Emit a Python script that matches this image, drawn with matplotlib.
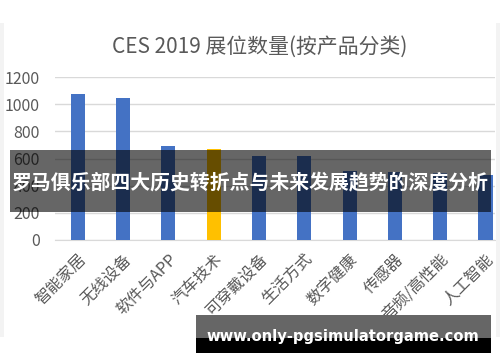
import matplotlib
matplotlib.use("Agg")
import matplotlib.pyplot as plt
from matplotlib.patches import Rectangle

plt.rcParams['font.family'] = ['Noto Sans CJK SC', 'DejaVu Sans']

categories = ["智能家居", "无线设备", "软件与APP", "汽车技术", "可穿戴设备",
              "生活方式", "数字健康", "传感器", "音频/高性能", "人工智能"]
values = [1075, 1042, 693, 668, 620, 615, 505, 500, 490, 478]
highlight = "汽车技术"
title = "CES 2019 展位数量(按产品分类)"
yticks = [0, 200, 400, 600, 800, 1000, 1200]
banner_text = "罗马俱乐部四大历史转折点与未来发展趋势的深度分析"
url_text = "www.only-pgsimulatorgame.com"

W, H = 500, 362
fig = plt.figure(figsize=(W / 100, H / 100), dpi=100)
fig.patch.set_facecolor("white")

def fx(x):
    return x / W

def fy(y):
    return 1 - y / H

# side margins of the screenshot card
fig.add_artist(Rectangle((fx(0), fy(337)), fx(4), (337 - 23) / H,
                         transform=fig.transFigure, facecolor="#f3f3f3", edgecolor="none"))
fig.add_artist(Rectangle((fx(496), fy(337)), fx(4), (337 - 23) / H,
                         transform=fig.transFigure, facecolor="#f3f3f3", edgecolor="none"))

ax = fig.add_axes([fx(55), fy(240), fx(495 - 55), (240 - 77) / H])
colors = ["#FFC000" if c == highlight else "#4472C4" for c in categories]
x = list(range(len(categories)))
ax.bar(x, values, width=0.31, color=colors, zorder=3)
ax.set_xlim(-0.5, 9.21)
ax.set_ylim(0, 1200)
ax.set_yticks(yticks)
ax.set_yticklabels([str(v) for v in yticks])
ax.set_xticks(x)
ax.set_xticklabels(categories, rotation=45, ha="right", rotation_mode="anchor")
ax.grid(axis="y", color="#d9d9d9", linewidth=1, zorder=0)
for s in ["top", "right", "left"]:
    ax.spines[s].set_visible(False)
ax.spines["bottom"].set_color("#d9d9d9")
ax.tick_params(axis="y", length=0, pad=11, labelsize=11.5, labelcolor="#595959")
ax.tick_params(axis="x", length=0, pad=8, labelsize=11.5, labelcolor="#595959")
ax.set_facecolor("white")

fig.text(fx(260), fy(47), title, ha="center", va="center", fontsize=15, color="#595959")

# overlay banner 1
fig.add_artist(Rectangle((fx(10), fy(212)), fx(491 - 10), (212 - 150) / H,
                         transform=fig.transFigure, facecolor="black", alpha=0.6,
                         edgecolor="none", zorder=10))
fig.text(fx(250), fy(182), banner_text, ha="center", va="center", fontsize=14.3,
         fontweight="bold", color="white", zorder=11)

# overlay banner 2
fig.add_artist(Rectangle((fx(196), fy(338)), fx(491 - 196), (338 - 315) / H,
                         transform=fig.transFigure, facecolor="#666666",
                         edgecolor="none", zorder=10))
fig.add_artist(Rectangle((fx(196), fy(353)), fx(491 - 196), (353 - 338) / H,
                         transform=fig.transFigure, facecolor="black",
                         edgecolor="none", zorder=10))
fig.text(fx(343), fy(336), url_text, ha="center", va="center", fontsize=10.6,
         fontweight="bold", color="white", family="DejaVu Sans", zorder=11)

fig.savefig("out.png", dpi=100)
